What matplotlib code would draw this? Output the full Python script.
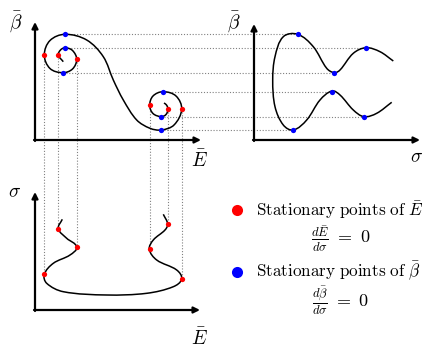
import numpy as np
import matplotlib
matplotlib.use("Agg")
import matplotlib.pyplot as plt
from matplotlib.path import Path
from matplotlib.patches import PathPatch

plt.rcParams['mathtext.fontset'] = 'cm'

# schematic drawn in picture units (x right, y down), 436 x 354

# beta vs E : double spiral, from inner end of left spiral to inner end of right one
spiral_x = [63.3, 58.3, 60.5, 65.0, 72.5, 76.7, 72.5, 62.7, 50.0, 44.3, 50.0, 65.0,
            86.7, 103.3, 113.3, 123.3, 136.7, 150.0, 161.3, 174.0, 181.7, 176.0,
            163.0, 153.0, 149.7, 153.0, 161.3, 166.0, 168.0, 166.5, 164.0]
spiral_y = [61.7, 55.0, 50.0, 47.7, 50.5, 59.3, 69.0, 72.7, 68.5, 55.0, 40.5, 34.3,
            40.0, 56.7, 80.0, 100.0, 120.0, 128.3, 130.0, 125.0, 109.3, 96.0,
            91.7, 96.0, 105.3, 113.5, 116.7, 114.5, 109.3, 105.0, 103.0]

# beta vs sigma : C shaped curve
bs_x = [393.3, 380.0, 366.0, 353.3, 340.0, 334.3, 326.7, 313.3, 297.7, 283.3, 275.0,
        272.7, 275.0, 283.3, 293.3, 306.7, 320.0, 332.0, 340.0, 353.3, 364.0, 376.7, 391.7]
bs_y = [61.0, 51.7, 47.7, 53.3, 70.0, 72.7, 68.3, 46.7, 34.3, 36.7, 56.7,
        80.0, 106.7, 125.0, 130.0, 120.0, 100.0, 91.0, 95.0, 110.0, 116.7, 113.3, 102.3]

# sigma vs E : U shaped curve
se_x = [62.3, 58.3, 66.7, 76.7, 70.0, 53.3, 44.3, 46.7, 63.3, 106.7, 146.7, 173.3,
        181.7, 176.7, 156.7, 149.3, 153.3, 165.0, 167.7, 163.3]
se_y = [219.3, 228.7, 238.3, 247.0, 255.0, 263.3, 274.3, 283.3, 291.7, 295.0, 293.3, 286.7,
        279.0, 270.0, 260.0, 249.3, 240.0, 230.0, 224.0, 214.3]

# stationary points of E (red): x in top panel, y top / y bottom
red_x = [44.3, 58.3, 76.7, 149.7, 168.0, 181.7]
red_y_top = [55.0, 55.0, 59.3, 105.3, 109.3, 109.3]
red_y_bot = [274.3, 228.7, 247.0, 249.3, 224.0, 279.0]

# stationary points of beta (blue): y, x in top-left panel, x in top-right panel
blue_y = [34.3, 47.7, 72.7, 91.7, 116.7, 130.0]
blue_x_left = [65.0, 65.0, 62.7, 163.0, 161.3, 161.3]
blue_x_right = [297.7, 366.0, 334.3, 332.0, 364.0, 293.3]


def smooth(ax, xs, ys):
    p = np.column_stack([xs, ys]).astype(float)
    n = len(p)
    # tangent direction at each point
    tang = np.zeros_like(p)
    for i in range(n):
        a = p[max(i - 1, 0)]
        b = p[min(i + 1, n - 1)]
        d = b - a
        tang[i] = d / np.hypot(*d)
    verts = [p[0]]
    codes = [Path.MOVETO]
    for i in range(n - 1):
        L = np.hypot(*(p[i + 1] - p[i])) / 3.0
        verts += [p[i] + tang[i] * L, p[i + 1] - tang[i + 1] * L, p[i + 1]]
        codes += [Path.CURVE4] * 3
    ax.add_patch(PathPatch(Path(verts, codes), fill=False, lw=1.1, ec='black', zorder=3))


def axis_arrow(ax, x0, y0, x1, y1):
    ax.annotate('', xy=(x1, y1), xytext=(x0, y0),
                arrowprops=dict(arrowstyle='-|>', lw=1.6, color='black',
                                mutation_scale=9, shrinkA=0, shrinkB=0), zorder=4)


fig = plt.figure(figsize=(4.36, 3.54), dpi=100)
ax = fig.add_axes([0, 0, 1, 1])
ax.set_xlim(0, 436)
ax.set_ylim(354, 0)
ax.axis('off')

dot = dict(ls='', marker='o', ms=3.8, mew=0, zorder=5)
dotted = dict(color='0.5', lw=0.8, ls=(0, (1, 1.6)), zorder=1)

# guide lines
for y, xl, xr in zip(blue_y, blue_x_left, blue_x_right):
    ax.plot([xl, xr], [y, y], **dotted)
for x, yt, yb in zip(red_x, red_y_top, red_y_bot):
    ax.plot([x, x], [yt, yb], **dotted)

# axes
axis_arrow(ax, 34, 140, 201, 140)
axis_arrow(ax, 35, 141, 35, 22)
axis_arrow(ax, 253, 140, 420, 140)
axis_arrow(ax, 254, 141, 254, 24)
axis_arrow(ax, 34, 310, 200, 310)
axis_arrow(ax, 35, 311, 35, 192)

# curves
smooth(ax, spiral_x, spiral_y)
smooth(ax, bs_x, bs_y)
smooth(ax, se_x, se_y)

# points
ax.plot(red_x, red_y_top, color='#ff0000', **dot)
ax.plot(red_x, red_y_bot, color='#ff0000', **dot)
ax.plot(blue_x_left, blue_y, color='#0000ff', **dot)
ax.plot(blue_x_right, blue_y, color='#0000ff', **dot)

# axis labels
lab = dict(fontsize=14, ha='center', va='center')
ax.text(16, 22, r'$\bar{\beta}$', **lab)
ax.text(199, 160, r'$\bar{E}$', **lab)
ax.text(234, 22, r'$\bar{\beta}$', **lab)
ax.text(417, 157, r'$\sigma$', **lab)
ax.text(15, 192, r'$\sigma$', **lab)
ax.text(199, 338, r'$\bar{E}$', **lab)

# legend
ax.plot([237.3], [210], color='#ff0000', ls='', marker='o', ms=8, mew=0)
ax.plot([237.3], [271.7], color='#0000ff', ls='', marker='o', ms=8, mew=0)
ax.text(256, 210, r'$\mathrm{Stationary\ points\ of\ }\bar{E}$', fontsize=12.3, va='center')
ax.text(256, 271.7, r'$\mathrm{Stationary\ points\ of\ }\bar{\beta}$', fontsize=12.3, va='center')
ax.text(341, 239, r'$\frac{d\bar{E}}{d\sigma}\ =\ 0$', fontsize=13, ha='center', va='center')
ax.text(341, 301, r'$\frac{d\bar{\beta}}{d\sigma}\ =\ 0$', fontsize=13, ha='center', va='center')

fig.savefig('out.png', dpi=100)
